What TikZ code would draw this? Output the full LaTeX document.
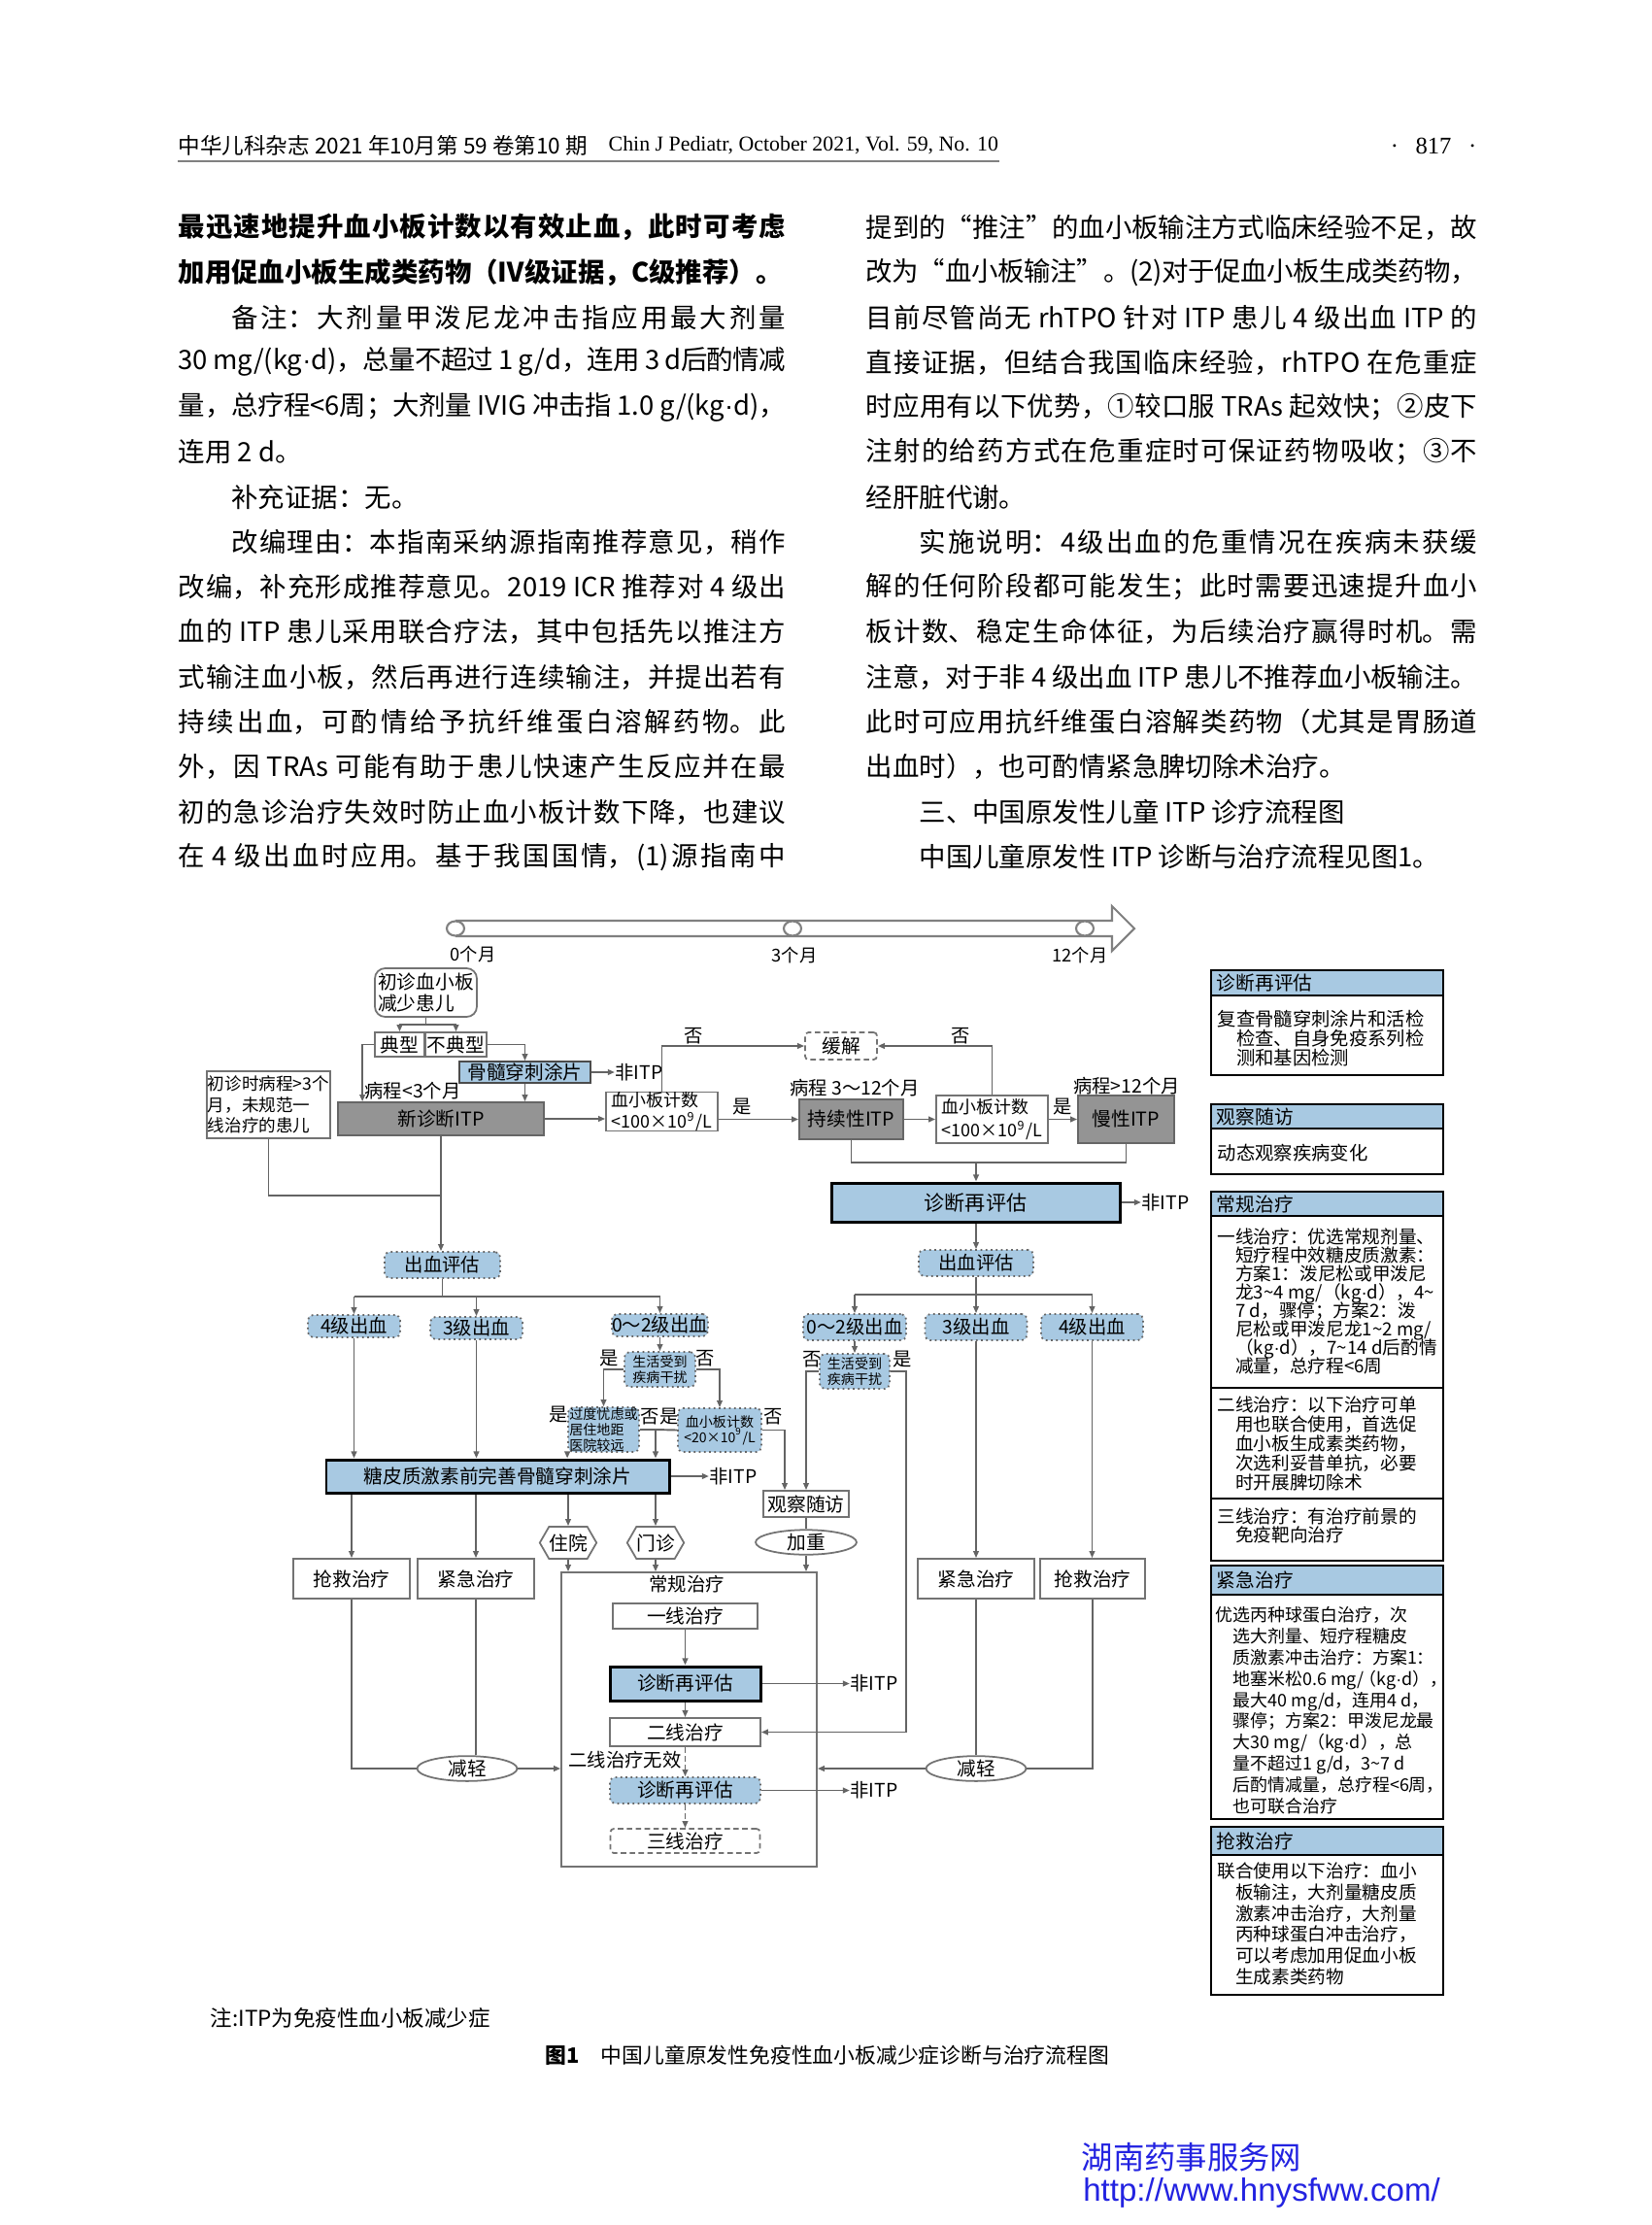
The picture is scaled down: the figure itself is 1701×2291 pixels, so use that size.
\documentclass[tikz,border=0pt]{standalone}
\usepackage{fontspec}
\setmainfont{Noto Sans CJK SC}
\newfontfamily\latinserif{Liberation Serif}
\newfontfamily\latinsans{Liberation Sans}
\usepackage{graphicx}
\usetikzlibrary{arrows.meta,positioning,shapes.geometric,shapes.symbols,calc}
\definecolor{lncol}{RGB}{100,100,100}
\definecolor{bdcol}{RGB}{115,115,115}
\definecolor{bluefill}{RGB}{168,201,226}
\definecolor{itpgray}{RGB}{148,148,148}
\definecolor{wmblue}{RGB}{35,35,225}
\XeTeXlinebreaklocale "zh"
\XeTeXlinebreakskip=0pt plus 1.5pt minus 0.4pt
\XeTeXlinebreakpenalty=10000
\newlength{\colw}\setlength{\colw}{177.8pt}
\newlength{\colwr}\setlength{\colwr}{179pt}
\newcommand{\fs}[2]{\fontsize{#1}{#2}\selectfont\lineskiplimit=-5pt\lineskip=0pt\relax}
\newcommand{\dt}{{\latinsans ·}}
\newcommand{\tld}{\textasciitilde}
\newcommand{\jtext}[2]{\parbox{#1}{\tolerance=10000\hbadness=10000\hfuzz=100pt\parfillskip=0pt\relax #2\par}}
\newcommand{\ltext}[2]{\parbox{#1}{\hfuzz=100pt\hbadness=10000\relax #2\par}}

\begin{document}
\begin{tikzpicture}[x=0.01cm, y=-0.01cm,
    txt/.style={inner sep=0pt, font=\fs{7.8}{9.4}},
    box/.style={draw=bdcol, line width=0.5pt, fill=white, inner sep=0pt, align=center, font=\fs{5.6}{6.2}},
    wh/.style 2 args={minimum width=#1*0.01cm, minimum height=#2*0.01cm},
    itpbox/.style={box, fill=itpgray, draw=black!60},
    bluebox/.style={box, fill=bluefill, draw=black!70},
    darkbox/.style={box, fill=bluefill, draw=black, line width=0.85pt},
    evalbox/.style={box, fill=bluefill, rounded corners=1.5pt, densely dotted, draw=black!60, font=\fs{5.5}{6.2}},
    tinybox/.style={evalbox, font=\fs{4}{4.5}},
    dashbox/.style={box, dash pattern=on 1.6pt off 1pt, rounded corners=1pt},
    ovalbox/.style={box, ellipse},
    hexbox/.style={box, signal, signal to=west and east, signal pointer angle=120},
    tick/.style={ellipse, draw=gray, fill=white, line width=0.6pt, minimum width=0.18cm, minimum height=0.15cm, inner sep=0pt},
    ln/.style={draw=lncol, line width=0.55pt},
    arr/.style={ln, -{Triangle[length=2pt, width=1.6pt]}},
    dasharr/.style={arr, dash pattern=on 1.6pt off 1pt},
    lbl/.style={inner sep=0pt, font=\fs{5.5}{6.2}},
    phead/.style={draw=black, line width=0.6pt, fill=bluefill, text width=2.27cm, inner xsep=0.06cm, inner ysep=0pt, align=left, font=\fs{5.6}{6}},
    pbody/.style={draw=black, line width=0.6pt, fill=white, inner sep=0pt, minimum width=2.39cm},
    ptext/.style={anchor=north west, inner sep=0pt, align=left},
]
    \fill[white] (0,0) rectangle (1701,2291);
    \useasboundingbox (0,0) rectangle (1701,2291);

    \node[anchor=west, inner sep=0pt] (jname) at (183,150) {\resizebox{119.8pt}{!}{中华儿科杂志~2021~年10月第~59~卷第10~期}};
    \node[anchor=west, inner sep=0pt] (jeng) at (626,150) {\resizebox{114.1pt}{!}{\latinserif Chin J Pediatr, October 2021, Vol. 59, No. 10}};
    \node[inner sep=0pt, font=\latinserif\fs{7}{8}] (pgno) at (1476,150) {·\hspace{5pt}817\hspace{5pt}·};
    \draw[draw=gray, line width=0.8pt] (jname.west |- 0,166) -- (jeng.east |- 0,166);

    \node[txt, anchor=west] (lt1) at (183,234) {\jtext{\colw}{\bfseries 最迅速地提升血小板计数以有效止血，此时可考虑}};
    \node[txt, anchor=west] (lt2) at (183,280.3) {\ltext{\colw}{\bfseries 加用促血小板生成类药物（Ⅳ级证据，C级推荐）。}};
    \node[txt, anchor=west] (lt3) at (183,326.6) {\jtext{\colw}{\hspace*{2em}备注：大剂量甲泼尼龙冲击指应用最大剂量}};
    \node[txt, anchor=west] (lt4) at (183,372.9) {\jtext{\colw}{30~mg/(kg\dt d)，总量不超过~1~g/d，连用~3~d后酌情减}};
    \node[txt, anchor=west] (lt5) at (183,419.2) {\jtext{\colw}{量，总疗程<6周；大剂量~IVIG~冲击指~1.0~g/(kg\dt d)，}};
    \node[txt, anchor=west] (lt6) at (183,465.5) {\ltext{\colw}{连用~2~d。}};
    \node[txt, anchor=west] (lt7) at (183,511.8) {\ltext{\colw}{\hspace*{2em}补充证据：无。}};
    \node[txt, anchor=west] (lt8) at (183,558.1) {\jtext{\colw}{\hspace*{2em}改编理由：本指南采纳源指南推荐意见，稍作}};
    \node[txt, anchor=west] (lt9) at (183,604.4) {\jtext{\colw}{改编，补充形成推荐意见。2019~ICR~推荐对~4~级出}};
    \node[txt, anchor=west] (lt10) at (183,650.7) {\jtext{\colw}{血的~ITP~患儿采用联合疗法，其中包括先以推注方}};
    \node[txt, anchor=west] (lt11) at (183,697) {\jtext{\colw}{式输注血小板，然后再进行连续输注，并提出若有}};
    \node[txt, anchor=west] (lt12) at (183,743.3) {\jtext{\colw}{持续出血，可酌情给予抗纤维蛋白溶解药物。此}};
    \node[txt, anchor=west] (lt13) at (183,789.6) {\jtext{\colw}{外，因~TRAs~可能有助于患儿快速产生反应并在最}};
    \node[txt, anchor=west] (lt14) at (183,835.9) {\jtext{\colw}{初的急诊治疗失效时防止血小板计数下降，也建议}};
    \node[txt, anchor=west] (lt15) at (183,882.2) {\jtext{\colw}{在~4~级出血时应用。基于我国国情，(1)源指南中}};

    \node[txt, anchor=west] (rt1) at (891,234) {\jtext{\colwr}{提到的“推注”的血小板输注方式临床经验不足，故}};
    \node[txt, anchor=west] (rt2) at (891,280.3) {\jtext{\colwr}{改为“血小板输注”。(2)对于促血小板生成类药物，}};
    \node[txt, anchor=west] (rt3) at (891,326.6) {\jtext{\colwr}{目前尽管尚无~rhTPO~针对~ITP~患儿~4~级出血~ITP~的}};
    \node[txt, anchor=west] (rt4) at (891,372.9) {\jtext{\colwr}{直接证据，但结合我国临床经验，rhTPO~在危重症}};
    \node[txt, anchor=west] (rt5) at (891,419.2) {\jtext{\colwr}{时应用有以下优势，①较口服~TRAs~起效快；②皮下}};
    \node[txt, anchor=west] (rt6) at (891,465.5) {\jtext{\colwr}{注射的给药方式在危重症时可保证药物吸收；③不}};
    \node[txt, anchor=west] (rt7) at (891,511.8) {\ltext{\colwr}{经肝脏代谢。}};
    \node[txt, anchor=west] (rt8) at (891,558.1) {\jtext{\colwr}{\hspace*{2em}实施说明：4级出血的危重情况在疾病未获缓}};
    \node[txt, anchor=west] (rt9) at (891,604.4) {\jtext{\colwr}{解的任何阶段都可能发生；此时需要迅速提升血小}};
    \node[txt, anchor=west] (rt10) at (891,650.7) {\jtext{\colwr}{板计数、稳定生命体征，为后续治疗赢得时机。需}};
    \node[txt, anchor=west] (rt11) at (891,697) {\jtext{\colwr}{注意，对于非~4~级出血~ITP~患儿不推荐血小板输注。}};
    \node[txt, anchor=west] (rt12) at (891,743.3) {\jtext{\colwr}{此时可应用抗纤维蛋白溶解类药物（尤其是胃肠道}};
    \node[txt, anchor=west] (rt13) at (891,789.6) {\ltext{\colwr}{出血时），也可酌情紧急脾切除术治疗。}};
    \node[txt, anchor=west] (rt14) at (891,835.9) {\ltext{\colwr}{\hspace*{2em}三、中国原发性儿童~ITP~诊疗流程图}};
    \node[txt, anchor=west] (rt15) at (891,882.2) {\ltext{\colwr}{\hspace*{2em}中国儿童原发性~ITP~诊断与治疗流程见图1。}};

    \draw[draw=gray, line width=0.6pt, fill=white] (469,948) -- (1145,948) -- (1145,933) -- (1168,956) -- (1145,979) -- (1145,964) -- (469,964);
    \node[tick] (m0) at (469,956) {};
    \node[tick] (m3) at (816,956) {};
    \node[tick] (m12) at (1117,956) {};
    \node[lbl, font=\fs{5.2}{6}] (m0t) at (487,983) {0个月};
    \node[lbl, font=\fs{5.2}{6}] (m3t) at (818,984) {3个月};
    \node[lbl, font=\fs{5.2}{6}] (m12t) at (1112,984) {12个月};

    \node[box, rounded corners=3pt, align=left, wh={105}{50}] (init) at (438.5,1022) {初诊血小板\\减少患儿};
    \node[box, wh={51}{25}] (typ) at (411.5,1075.5) {典型};
    \node[box, wh={63}{25}] (atyp) at (469.5,1075.5) {不典型};
    \coordinate (split) at (438.5,1055);
    \draw[ln] (init.south) -- (split);
    \draw[arr] (split) -| (typ.north);
    \draw[arr] (split) -| (atyp.north);
    \node[bluebox, wh={135}{22}] (marrow) at (540.5,1104) {骨髓穿刺涂片};
    \node[lbl] (nonitp1) at (658,1104) {非ITP};
    \draw[arr] (marrow.east) -- (nonitp1.west);
    \node[itpbox, wh={212}{34}] (newitp) at (454,1152) {新诊断ITP};
    \node[lbl] (lt3m) at (425,1123) {病程<3个月};
    \draw[arr] (typ.west) -| ($(newitp.north west)+(26,0)$);
    \draw[arr] (atyp.east) -| (marrow.north);
    \draw[arr] (marrow.south) -- (marrow.south |- newitp.north);
    \node[box, align=left, font=\fs{5}{6.2}, wh={127}{69}] (late) at (276.5,1137.5) {初诊时病程>3个\\月，未规范一\\线治疗的患儿};

    \node[box, align=left, font=\fs{5.1}{6.2}, wh={115}{37}] (plt1) at (681.5,1144.5) {血小板计数\\<100×10\textsuperscript{9}/L};
    \draw[arr] (newitp.east) -- (plt1.west |- newitp.east);
    \node[itpbox, wh={107}{41}] (persist) at (876.5,1152.5) {持续性ITP};
    \node[lbl] (c312) at (880,1120) {病程~3～12个月};
    \node[lbl] (yes0) at (764,1140) {是};
    \draw[arr] (plt1.east |- persist.west) -- (persist.west);
    \node[box, align=left, font=\fs{5.1}{6.8}, wh={115}{49}] (plt2) at (1021.5,1152.5) {血小板计数\\<100×10\textsuperscript{9}/L};
    \draw[arr] (persist.east) -- (plt2.west);
    \node[itpbox, wh={99}{49}] (chronic) at (1159.5,1152.5) {慢性ITP};
    \node[lbl] (yes1) at (1094,1140) {是};
    \draw[arr] (plt2.east) -- (chronic.west);
    \node[lbl] (c12) at (1160,1118) {病程>12个月};
    \node[dashbox, wh={74}{28}] (remit) at (866,1077) {缓解};
    \node[lbl] (no0) at (714,1067) {否};
    \node[lbl] (no1) at (989,1067) {否};
    \draw[arr] (plt1.north) |- (remit.west);
    \draw[arr] (plt2.north) |- (remit.east);

    \coordinate (join1) at (454,1231);
    \draw[ln] (late.south) |- (join1);
    \node[evalbox, wh={119}{27}] (bleed1) at (455.5,1302.5) {出血评估};
    \draw[arr] (newitp.south) -- (newitp.south |- bleed1.north);
    \node[evalbox, wh={95}{23}] (g4a) at (364.5,1365.5) {4级出血};
    \node[evalbox, wh={95}{23}] (g3a) at (490.5,1367.5) {3级出血};
    \node[evalbox, wh={95}{23}] (g02a) at (679.5,1364.5) {0～2级出血};
    \coordinate (br1) at (455.5,1335);
    \draw[ln] (bleed1.south) -- (br1);
    \draw[ln] (br1 -| g4a) -- (br1 -| g02a);
    \foreach \g in {g4a,g3a,g02a}
        \draw[arr] (br1 -| \g) -- (\g.north);
    \node[tinybox, wh={73}{36}] (life1) at (679.5,1410) {生活受到\\疾病干扰};
    \draw[arr] (g02a.south) -- (life1.north);
    \node[lbl] (yes2) at (627,1399) {是};
    \node[lbl] (no2) at (726,1399) {否};
    \node[tinybox, align=left, wh={73}{46}] (worry) at (621.5,1472) {过度忧虑或\\居住地距\\医院较远};
    \node[tinybox, wh={86}{45}] (plt3) at (741,1472.5) {血小板计数\\<20×10\textsuperscript{9}/L};
    \draw[arr] (life1.west) -| (worry.north);
    \draw[arr] (life1.east) -| (plt3.north);
    \node[lbl] (yes3) at (575,1457) {是};
    \node[lbl] (no3) at (669,1459) {否};
    \node[lbl] (yes4) at (689,1459) {是};
    \node[lbl] (no4) at (796,1459) {否};

    \node[darkbox, wh={353}{34}] (steroid) at (512.5,1520) {糖皮质激素前完善骨髓穿刺涂片};
    \node[lbl] (nonitp2) at (755,1520) {非ITP};
    \draw[arr] (steroid.east) -- (nonitp2.west);
    \coordinate (merge) at (675,1472);
    \draw[ln] (worry.east) -- (merge);
    \draw[ln] (plt3.west) -- (merge);
    \draw[arr] (merge) -- (merge |- steroid.north);
    \draw[arr] (worry.south west) -- (worry.south west |- steroid.north);
    \draw[arr] (g4a.south) -- (g4a.south |- steroid.north);
    \draw[arr] (g3a.south) -- (g3a.south |- steroid.north);

    \node[box, wh={120}{41}] (resc1) at (362,1625.5) {抢救治疗};
    \node[box, wh={120}{41}] (urg1) at (490,1625.5) {紧急治疗};
    \draw[arr] (steroid.south -| resc1) -- (resc1.north);
    \draw[arr] (steroid.south -| urg1) -- (urg1.north);
    \node[hexbox, wh={56}{33}] (hosp) at (585,1588.5) {住院};
    \node[hexbox, wh={57}{33}] (clinic) at (675,1588.5) {门诊};
    \draw[arr] (steroid.south -| hosp) -- (hosp.north);
    \draw[arr] (steroid.south -| clinic) -- (clinic.north);

    \node[box, wh={263}{303}] (routine) at (709.5,1770.5) {};
    \node[lbl] (routinet) at (707,1631) {常规治疗};
    \node[box, wh={88}{27}] (obs) at (830,1548.5) {观察随访};
    \draw[arr] (plt3.east) -| ($(obs.north)+(-22,0)$);
    \node[ovalbox, wh={104}{25}] (worse) at (830,1588) {加重};
    \draw[ln] (obs.south) -- (worse.north);
    \draw[arr] (worse.south) -- (worse.south |- routine.north);
    \draw[arr] (hosp.south) -- (hosp.south |- routine.north);
    \draw[arr] (clinic.south) -- (clinic.south |- routine.north);
    \node[box, wh={149}{26}] (line1) at (705.5,1664) {一线治疗};
    \node[darkbox, wh={155}{35}] (reval1) at (705.5,1733.5) {诊断再评估};
    \node[box, wh={155}{29}] (line2) at (705.5,1783.5) {二线治疗};
    \node[evalbox, wh={155}{27}, font=\fs{5.6}{6.2}] (reval2) at (705.5,1843.5) {诊断再评估};
    \node[dashbox, wh={154}{25}] (line3) at (705.5,1895.5) {三线治疗};
    \node[lbl] (fail2) at (643.5,1812) {二线治疗无效};
    \draw[arr] (line1) -- (reval1);
    \draw[arr] (reval1) -- (line2);
    \draw[dasharr] (line2) -- (reval2);
    \draw[dasharr] (reval2) -- (line3);
    \node[lbl] (nonitp3) at (900,1733.5) {非ITP};
    \node[lbl] (nonitp4) at (900,1843.5) {非ITP};
    \draw[arr] (reval1.east) -- (nonitp3.west);
    \draw[arr] (reval2.east) -- (nonitp4.west);

    \node[ovalbox, wh={103}{24}] (ease1) at (481,1821) {减轻};
    \draw[ln] (resc1.south) |- (ease1.west);
    \draw[ln] (urg1.south) -- (urg1.south |- ease1.north);
    \draw[arr] (ease1.east) -- (ease1.east -| routine.west);

    \coordinate (join2) at (1005,1197);
    \draw[ln] (persist.south) |- (join2) -| (chronic.south);
    \node[darkbox, wh={297}{40}, font=\fs{6}{7}] (reval0) at (1004.5,1238) {诊断再评估};
    \draw[arr] (join2) -- (join2 |- reval0.north);
    \node[lbl] (nonitp0) at (1200,1238) {非ITP};
    \draw[arr] (reval0.east) -- (nonitp0.west);
    \node[evalbox, wh={118}{27}] (bleed2) at (1005,1300.5) {出血评估};
    \draw[arr] (reval0.south -| bleed2) -- (bleed2.north);
    \node[evalbox, wh={106}{27}] (g02b) at (880,1366.5) {0～2级出血};
    \node[evalbox, wh={105}{27}] (g3b) at (1005,1366.5) {3级出血};
    \node[evalbox, wh={105}{27}] (g4b) at (1124.5,1366.5) {4级出血};
    \coordinate (br2) at (1005,1333);
    \draw[ln] (bleed2.south) -- (br2);
    \draw[ln] (br2 -| g02b) -- (br2 -| g4b);
    \foreach \g in {g02b,g3b,g4b}
        \draw[arr] (br2 -| \g) -- (\g.north);
    \node[tinybox, wh={72}{36}] (life2) at (880,1412) {生活受到\\疾病干扰};
    \draw[arr] (g02b.south) -- (life2.north);
    \node[lbl] (no5) at (836,1400) {否};
    \node[lbl] (yes5) at (929,1400) {是};
    \draw[arr] (life2.west) -| (obs.north);
    \coordinate (yesline) at (933,1783.5);
    \draw[arr] (life2.east) -| (yesline) -- (line2.east);

    \node[box, wh={120}{41}] (urg2) at (1005,1625.5) {紧急治疗};
    \node[box, wh={108}{41}] (resc2) at (1125,1625.5) {抢救治疗};
    \draw[arr] (g3b.south) -- (urg2.north);
    \draw[arr] (g4b.south) -- (g4b.south |- resc2.north);
    \node[ovalbox, wh={103}{24}] (ease2) at (1005,1821) {减轻};
    \draw[ln] (urg2.south) -- (ease2.north);
    \draw[ln] (resc2.south) |- (ease2.east);
    \draw[arr] (ease2.west) -- (ease2.west -| routine.east);

    \node[phead, minimum height=0.26cm] (p1h) at (1366.5,1012) {诊断再评估};
    \node[pbody, minimum height=0.82cm] (p1b) at (1366.5,1066) {};
    \node[ptext, font=\fs{5.5}{5.7}] (p1t) at (1253,1039) {复查骨髓穿刺涂片和活检\\\hspace*{1em}检查、自身免疫系列检\\\hspace*{1em}测和基因检测};

    \node[phead, minimum height=0.25cm] (p2h) at (1366.5,1149.5) {观察随访};
    \node[pbody, minimum height=0.47cm] (p2b) at (1366.5,1185.5) {};
    \node[anchor=west, inner sep=0pt, font=\fs{5.5}{5.7}] (p2t) at (1253,1187) {动态观察疾病变化};

    \node[phead, minimum height=0.25cm] (p3h) at (1366.5,1239.5) {常规治疗};
    \node[pbody, minimum height=1.77cm] (p3a) at (1366.5,1340.5) {};
    \node[pbody, minimum height=1.14cm] (p3b) at (1366.5,1486) {};
    \node[pbody, minimum height=0.64cm] (p3c) at (1366.5,1575) {};
    \node[ptext, font=\fs{5.3}{5.4}] (p3at) at (1253,1264) {一线治疗：优选常规剂量、\\\hspace*{1em}短疗程中效糖皮质激素：\\\hspace*{1em}方案1：泼尼松或甲泼尼\\\hspace*{1em}龙3\tld 4 mg/（kg\dt d），4\tld\\\hspace*{1em}7 d，骤停；方案2：泼\\\hspace*{1em}尼松或甲泼尼龙1\tld 2 mg/\\\hspace*{1em}（kg\dt d），7\tld 14 d后酌情\\\hspace*{1em}减量，总疗程<6周};
    \node[ptext, font=\fs{5.3}{5.7}] (p3bt) at (1253,1437) {二线治疗：以下治疗可单\\\hspace*{1em}用也联合使用，首选促\\\hspace*{1em}血小板生成素类药物，\\\hspace*{1em}次选利妥昔单抗，必要\\\hspace*{1em}时开展脾切除术};
    \node[ptext, font=\fs{5.3}{5.4}] (p3ct) at (1253,1552) {三线治疗：有治疗前景的\\\hspace*{1em}免疫靶向治疗};

    \node[phead, minimum height=0.30cm] (p4h) at (1366.5,1627) {紧急治疗};
    \node[pbody, minimum height=2.31cm] (p4b) at (1366.5,1757.5) {};
    \node[ptext, font=\fs{5.1}{6.2}] (p4t) at (1251,1654) {优选丙种球蛋白治疗，次\\\hspace*{1em}选大剂量、短疗程糖皮\\\hspace*{1em}质激素冲击治疗：方案1：\\\hspace*{1em}地塞米松0.6 mg/\kern-0.3em（kg\dt d），\kern-0.4em\\\hspace*{1em}最大40 mg/d，连用4 d，\\\hspace*{1em}骤停；方案2：甲泼尼龙最\\\hspace*{1em}大30 mg/（kg\dt d），总\\\hspace*{1em}量不超过1 g/d，3\tld 7 d\\\hspace*{1em}后酌情减量，总疗程<6周，\\\hspace*{1em}也可联合治疗};

    \node[phead, minimum height=0.29cm] (p5h) at (1366.5,1895.5) {抢救治疗};
    \node[pbody, minimum height=1.44cm] (p5b) at (1366.5,1982) {};
    \node[ptext, font=\fs{5.3}{6.2}] (p5t) at (1253,1917) {联合使用以下治疗：血小\\\hspace*{1em}板输注，大剂量糖皮质\\\hspace*{1em}激素冲击治疗，大剂量\\\hspace*{1em}丙种球蛋白冲击治疗，\\\hspace*{1em}可以考虑加用促血小板\\\hspace*{1em}生成素类药物};

    \node[anchor=west, inner sep=0pt, font=\fs{6.4}{7}] (note) at (216,2078) {注:ITP为免疫性血小板减少症};
    \node[inner sep=0pt, font=\fs{6.2}{7}] (caption) at (852,2116) {\textbf{图1}\hspace{1em}中国儿童原发性免疫性血小板减少症诊断与治疗流程图};
    \node[inner sep=0pt, font=\fs{9.2}{10}, text=wmblue] (wm1) at (1227,2221) {湖南药事服务网};
    \node[inner sep=0pt, font=\latinsans\fs{9.4}{10}, text=wmblue] (wm2) at (1299,2258) {http://www.hnysfww.com/};
\end{tikzpicture}
\end{document}
